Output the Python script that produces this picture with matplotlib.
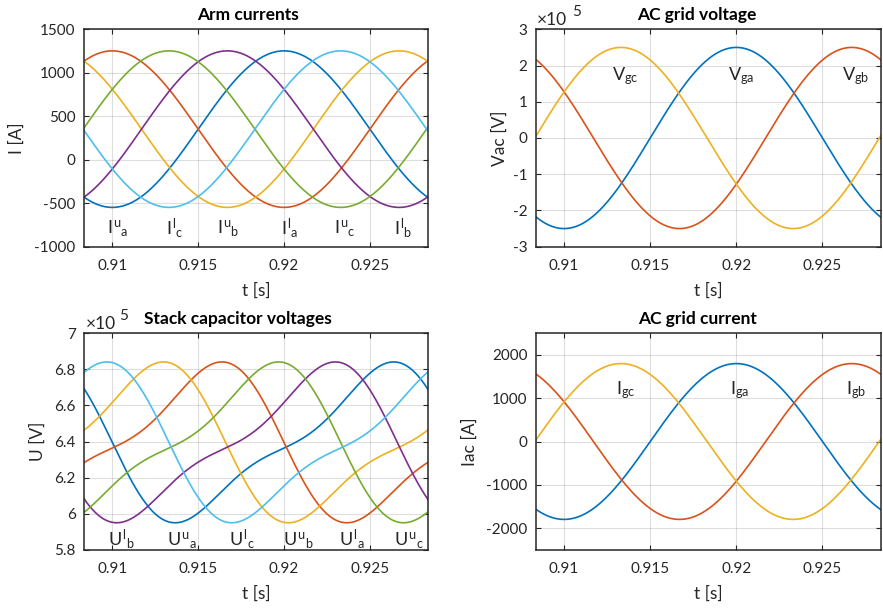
import numpy as np
import matplotlib
matplotlib.use('Agg')
import matplotlib.pyplot as plt

plt.rcParams['font.family'] = ['Lato', 'DejaVu Sans']
plt.rcParams['mathtext.fontset'] = 'custom'
plt.rcParams['mathtext.rm'] = 'Lato'
plt.rcParams['mathtext.it'] = 'Lato'
plt.rcParams['mathtext.bf'] = 'Lato:bold'
plt.rcParams['axes.unicode_minus'] = False

# ---------------- data ----------------
F_GRID = 50.0                      # Hz
T_START, T_END = 0.90835, 0.92840  # visible time window [s]
x_ticks = [0.91, 0.915, 0.92, 0.925]
x_tick_labels = ['0.91', '0.915', '0.92', '0.925']

# phase order: ua, la, ub, lb, uc, lc
arm_colors = ['#0072BD', '#D95319', '#EDB120', '#7E2F8E', '#77AC30', '#4DBEEE']

# Arm currents: offset + amplitude*cos, with time of peak for each arm
arm_offset = 352.0           # A
arm_amplitude = 900.0        # A
arm_peak_t = [0.9200, 0.9100, 0.9267, 0.9167, 0.9133, 0.9233]
arm_text = [r'$I^{u}{}_{a}$', r'$I^{l}{}_{c}$', r'$I^{u}{}_{b}$',
            r'$I^{l}{}_{a}$', r'$I^{u}{}_{c}$', r'$I^{l}{}_{b}$']
arm_text_t = [0.9097, 0.9131, 0.9161, 0.9198, 0.9229, 0.9264]
arm_text_y = -858.0
arm_yticks = [-1000, -500, 0, 500, 1000, 1500]

# Stack capacitor voltages (x1e5 V): mean + 1st and 2nd harmonic (cos, sin)
cap_mean = 6.385
cap_h1 = [0.362, -0.140]
cap_h2 = [0.094, 0.080]
cap_peak_t = [0.9263, 0.9163, 0.9129, 0.9229, 0.9196, 0.9096]
cap_text = [r'$U^{l}{}_{b}$', r'$U^{u}{}_{a}$', r'$U^{l}{}_{c}$',
            r'$U^{u}{}_{b}$', r'$U^{l}{}_{a}$', r'$U^{u}{}_{c}$']
cap_text_t = [0.90977, 0.9132, 0.9168, 0.91991, 0.9232, 0.92638]
cap_text_y = 5.823
cap_yticks = [5.8, 6.0, 6.2, 6.4, 6.6, 6.8, 7.0]
cap_ytick_labels = ['5.8', '6', '6.2', '6.4', '6.6', '6.8', '7']

# AC grid (phase a, b, c)
grid_colors = ['#0072BD', '#D95319', '#EDB120']
grid_peak_t = [0.9200, 0.9267, 0.9133]
vgrid_amplitude = 2.5        # x1e5 V
igrid_amplitude = 1800.0     # A
vgrid_text = [r'$V_{gc}$', r'$V_{ga}$', r'$V_{gb}$']
vgrid_text_t = [0.91276, 0.91949, 0.92611]
vgrid_text_y = 1.60
igrid_text = [r'$I_{gc}$', r'$I_{ga}$', r'$I_{gb}$']
igrid_text_t = [0.9130, 0.91965, 0.92634]
igrid_text_y = 1085.0
vgrid_yticks = [-3, -2, -1, 0, 1, 2, 3]
igrid_yticks = [-2000, -1000, 0, 1000, 2000]

# ---------------- figure ----------------
t = np.linspace(T_START, T_END, 1200)
w = 2 * np.pi * F_GRID

W, H = 883, 610
fig = plt.figure(figsize=(W / 100, H / 100), dpi=100)

def px_axes(l, t_, r, b):
    return fig.add_axes([l / W, 1 - b / H, (r - l) / W, (b - t_) / H])

ax_arm = px_axes(84, 29.3, 428.3, 246.7)
ax_vg = px_axes(535.7, 29.3, 881, 246.7)
ax_cap = px_axes(84, 333.3, 428.3, 549.7)
ax_ig = px_axes(535.7, 333.3, 881, 549.7)

DARK = '#262626'
LW = 1.2
TXT = 13

def style(ax, title, title_x, ylabel, ylab_x):
    ax.set_xlim(T_START, T_END)
    ax.set_xticks(x_ticks)
    ax.set_xticklabels(x_tick_labels)
    ax.grid(True, color=DARK, alpha=0.15, lw=0.8)
    ax.set_axisbelow(True)
    for s in ax.spines.values():
        s.set_color(DARK)
        s.set_linewidth(1.1)
    ax.tick_params(direction='in', length=3.5, width=0.8, color=DARK,
                   labelcolor=DARK, labelsize=11, top=True, right=True)
    ax.tick_params(axis='x', pad=9)
    ax.tick_params(axis='y', pad=6)
    ax.set_title(title, fontsize=12.5, fontweight='bold', x=title_x, pad=6.5)
    ax.set_xlabel('t [s]', fontsize=12.5, color=DARK)
    ax.xaxis.set_label_coords(0.5, -0.165)
    ax.set_ylabel(ylabel, fontsize=12.5, color=DARK)
    ax.yaxis.set_label_coords(ylab_x, 0.5)

def exponent(ax, x0, x5):
    ax.text(x0, 1.018, '\u00d710', transform=ax.transAxes, fontsize=12.5,
            color=DARK, va='baseline', ha='left')
    ax.text(x5, 1.06, '5', transform=ax.transAxes, fontsize=11,
            color=DARK, va='baseline', ha='left')

# Arm currents
for c, tp in zip(arm_colors, arm_peak_t):
    ax_arm.plot(t, arm_offset + arm_amplitude * np.cos(w * (t - tp)), color=c, lw=LW)
for s, tx in zip(arm_text, arm_text_t):
    ax_arm.text(tx, arm_text_y, s, fontsize=TXT, color=DARK, va='baseline')
ax_arm.set_ylim(-1000, 1500)
ax_arm.set_yticks(arm_yticks)
style(ax_arm, 'Arm currents', 0.475, 'I [A]', -0.172)

# AC grid voltage
for c, tp in zip(grid_colors, grid_peak_t):
    ax_vg.plot(t, vgrid_amplitude * np.cos(w * (t - tp)), color=c, lw=LW)
for s, tx in zip(vgrid_text, vgrid_text_t):
    ax_vg.text(tx, vgrid_text_y, s, fontsize=TXT, color=DARK, va='baseline')
ax_vg.set_ylim(-3, 3)
ax_vg.set_yticks(vgrid_yticks)
style(ax_vg, 'AC grid voltage', 0.467, 'Vac [V]', -0.08)
exponent(ax_vg, 0.004, 0.106)

# Stack capacitor voltages
for c, tp in zip(arm_colors, cap_peak_t):
    ph = w * (t - tp)
    u = (cap_mean + cap_h1[0] * np.cos(ph) + cap_h1[1] * np.sin(ph)
         + cap_h2[0] * np.cos(2 * ph) + cap_h2[1] * np.sin(2 * ph))
    ax_cap.plot(t, u, color=c, lw=LW)
for s, tx in zip(cap_text, cap_text_t):
    ax_cap.text(tx, cap_text_y, s, fontsize=TXT, color=DARK, va='baseline')
ax_cap.set_ylim(5.8, 7.0)
ax_cap.set_yticks(cap_yticks)
ax_cap.set_yticklabels(cap_ytick_labels)
style(ax_cap, 'Stack capacitor voltages', 0.448, 'U [V]', -0.11)
exponent(ax_cap, 0.004, 0.101)

# AC grid current
for c, tp in zip(grid_colors, grid_peak_t):
    ax_ig.plot(t, igrid_amplitude * np.cos(w * (t - tp)), color=c, lw=LW)
for s, tx in zip(igrid_text, igrid_text_t):
    ax_ig.text(tx, igrid_text_y, s, fontsize=TXT, color=DARK, va='baseline')
ax_ig.set_ylim(-2500, 2500)
ax_ig.set_yticks(igrid_yticks)
style(ax_ig, 'AC grid current', 0.469, 'Iac [A]', -0.168)

fig.savefig('out.png', dpi=100)
